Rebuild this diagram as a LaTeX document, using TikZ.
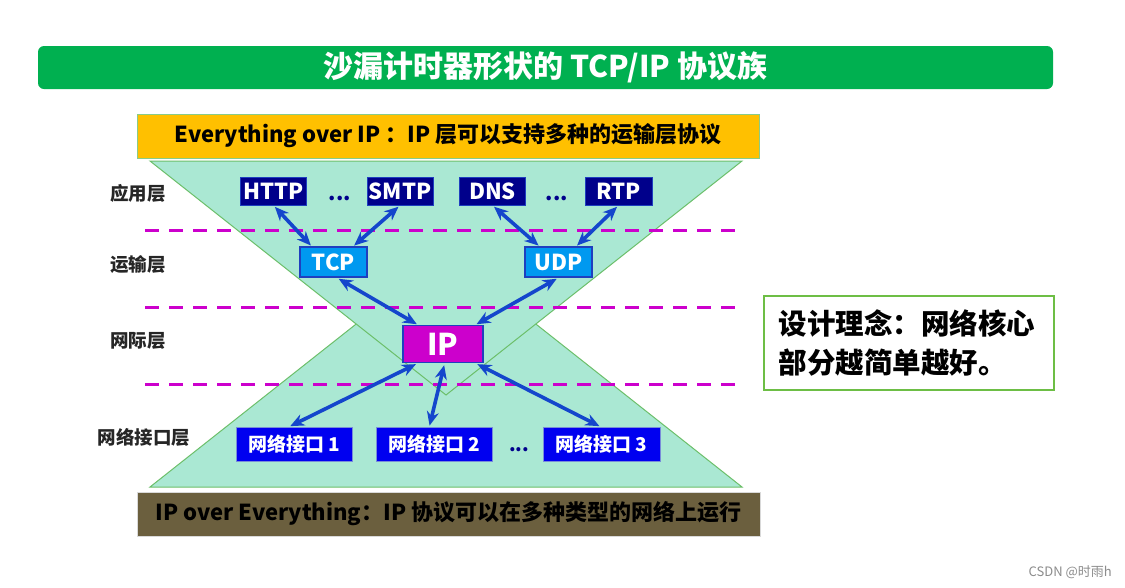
\documentclass[tikz,border=0pt]{standalone}
\usepackage{fontspec}
\setmainfont{Noto Sans CJK SC}
\usetikzlibrary{arrows.meta,calc}
\definecolor{titlegreen}{HTML}{00B050}
\definecolor{bandorange}{HTML}{FFC000}
\definecolor{bandolive}{HTML}{6B5F3E}
\definecolor{mint}{HTML}{AAE8D3}
\definecolor{trigreen}{HTML}{6CBF6A}
\definecolor{navybox}{HTML}{00008B}
\definecolor{tcpblue}{HTML}{0099F0}
\definecolor{ipmag}{HTML}{CC00CC}
\definecolor{ifblue}{HTML}{0000F0}
\definecolor{arrowblue}{HTML}{1446CC}
\definecolor{boxborder}{HTML}{1F3FBF}
\definecolor{notegreen}{HTML}{6DBE45}
\definecolor{dashmag}{HTML}{CC00CC}
\tikzset{
  fs/.style={font=\bfseries\fontsize{#1}{#1}\selectfont},
  appbox/.style={draw=boxborder, line width=0.8, fill=navybox, text=white, fs=22, minimum width=66, minimum height=28, inner sep=0},
  tpbox/.style={draw=boxborder, line width=1.5, fill=tcpblue, text=white, fs=22, minimum width=67, minimum height=30, inner sep=0},
  ipbox/.style={draw=boxborder, line width=1.5, fill=ipmag, text=white, fs=30, minimum width=80, minimum height=37, inner sep=0},
  ifbox/.style={draw=boxborder!60, line width=0.8, fill=ifblue, text=white, fs=19, minimum width=116, minimum height=34, inner sep=0},
  dots/.style={text=navybox, fs=21, inner sep=0},
  layerlbl/.style={text=black!85, fs=18.5, inner sep=0},
  link/.style={draw=arrowblue, line width=3.6, {Stealth[length=14pt,width=12pt]}-{Stealth[length=14pt,width=12pt]}, shorten <=2pt, shorten >=1pt},
  sep/.style={draw=dashmag, line width=3, dash pattern=on 14pt off 10pt},
  tri/.style={fill=mint, draw=trigreen, line width=1},
}
\begin{document}
\begin{tikzpicture}[x=1pt,y=-1pt]
\useasboundingbox (0,0) rectangle (1125,587);
\fill[white] (0,0) rectangle (1125,587);

% title
\node[fill=titlegreen, rounded corners=6, minimum width=1015, minimum height=43, inner sep=0, text=white, fs=30] (title) at (545.5,67.5) {沙漏计时器形状的 TCP/IP 协议族};

% hourglass triangles
\draw[tri] (150,487) -- (742,487) -- (446,253) -- cycle;
\draw[tri] (150,161) -- (742,161) -- (446,395) -- cycle;

% bands
\node[draw=trigreen!80, line width=0.8, fill=bandorange, minimum width=622, minimum height=44, inner sep=0, fs=22, text=black] (topband) at (448,136) {Everything over IP ：IP 层可以支持多种的运输层协议};
\node[draw=black!15, line width=0.8, fill=bandolive, minimum width=623, minimum height=44, inner sep=0, fs=22, text=black] (botband) at (448.5,514) {IP over Everything：IP 协议可以在多种类型的网络上运行};

% layer separators
\coordinate (s1a) at (145,230); \coordinate (s1b) at (736,230);
\coordinate (s2a) at (145,307); \coordinate (s2b) at (736,307);
\coordinate (s3a) at (145,384); \coordinate (s3b) at (736,384);
\draw[sep] (s1a) -- (s1b);
\draw[sep] (s2a) -- (s2b);
\draw[sep] (s3a) -- (s3b);

% layer labels
\node[layerlbl] (l1) at (138,193) {应用层};
\node[layerlbl] (l2) at (138,265) {运输层};
\node[layerlbl] (l3) at (138,341) {网际层};
\node[layerlbl] (l4) at (144,437) {网络接口层};

% application layer
\node[appbox] (http) at (273.5,191) {HTTP};
\node[appbox] (smtp) at (400,191) {SMTP};
\node[appbox] (dns) at (492.5,191) {DNS};
\node[appbox, minimum width=67] (rtp) at (618.5,191) {RTP};
\node[dots] (d1) at (340,198) {...};
\node[dots] (d2) at (557,198) {...};

% transport
\node[tpbox] (tcp) at (333.5,262) {TCP};
\node[tpbox] (udp) at (558.5,262) {UDP};

% internet
\node[ipbox] (ip) at (443,344) {IP};

% link layer
\node[ifbox] (if1) at (294,444) {网络接口 1};
\node[ifbox] (if2) at (434,444) {网络接口 2};
\node[ifbox, minimum width=117] (if3) at (601.5,444) {网络接口 3};
\node[dots, fs=19] (d3) at (519,450) {...};

% links
\draw[link] (http.south) -- ($(tcp.north west)!0.18!(tcp.north east)$);
\draw[link] (smtp.south) -- ($(tcp.north west)!0.79!(tcp.north east)$);
\draw[link] (dns.south) -- ($(udp.north west)!0.22!(udp.north east)$);
\draw[link] (rtp.south) -- ($(udp.north west)!0.76!(udp.north east)$);
\draw[link] ($(tcp.south west)!0.55!(tcp.south east)$) -- ($(ip.north west)!0.19!(ip.north east)$);
\draw[link] ($(udp.south west)!0.5!(udp.south east)$) -- ($(ip.north west)!0.9!(ip.north east)$);
\draw[link] ($(ip.south west)!0.19!(ip.south east)$) -- ($(if1.north west)!0.46!(if1.north east)$);
\draw[link] ($(ip.south west)!0.52!(ip.south east)$) -- ($(if2.north west)!0.46!(if2.north east)$);
\draw[link] ($(ip.south west)!0.9!(ip.south east)$) -- ($(if3.north west)!0.49!(if3.north east)$);

% design note
\node[draw=notegreen, line width=2, fill=white, minimum width=290, minimum height=94, inner sep=0] (notebox) at (909,343) {};
\node[anchor=west, align=left, text=black, font=\bfseries\fontsize{28.5}{39}\selectfont] (note) at (775,343) {设计理念：网络核心\\部分越简单越好。};

% watermark
\node[text=black!45, font=\fontsize{13}{13}\selectfont, inner sep=0, anchor=east] (wm) at (1112,572) {CSDN @时雨h};
\end{tikzpicture}
\end{document}
